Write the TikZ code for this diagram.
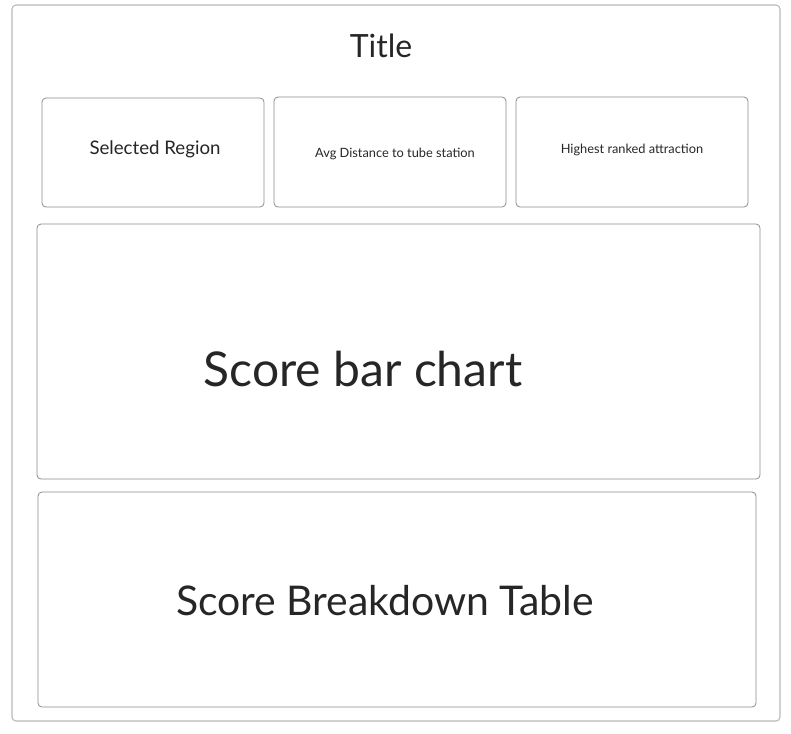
\documentclass[tikz,border=0pt]{standalone}
\usepackage{fontspec}
\setmainfont{Lato}
\usetikzlibrary{positioning}

\begin{document}
\begin{tikzpicture}[x=0.75pt,y=-0.75pt,
  panel/.style={draw=black!45,line width=0.6pt,rounded corners=3pt,inner sep=0pt},
  frame/.style={draw=black!28,line width=0.8pt,rounded corners=3pt,inner sep=0pt},
  lbl/.style={text=black!85,inner sep=0pt}]

\useasboundingbox (0,0) rectangle (791,733);

\node[frame,minimum width=576pt,minimum height=537pt] (page) at (396,363) {};
\node[lbl,font=\fontsize{24}{28}\selectfont] (title) at (381,46) {Title};

% top cards
\node[panel,minimum width=166.5pt,minimum height=81.75pt] (region) at (153,152.5) {};
\node[panel,minimum width=174pt,minimum height=82.5pt] (dist) at (390,152) {};
\node[panel,minimum width=174pt,minimum height=82.5pt] (attr) at (632,152) {};
\node[lbl,font=\fontsize{14}{17}\selectfont] (regiontxt) at (155,149) {Selected Region};
\node[lbl,font=\fontsize{9.6}{11}\selectfont] (disttxt) at (395,154) {Avg Distance to tube station};
\node[lbl,font=\fontsize{9.6}{11}\selectfont] (attrtxt) at (632,150) {Highest ranked attraction};

% chart and table
\node[panel,minimum width=542.25pt,minimum height=191.25pt] (chart) at (398.5,351.5) {};
\node[lbl,font=\fontsize{36}{42}\selectfont] (charttxt) at (363,369) {Score bar chart};
\node[panel,minimum width=538.5pt,minimum height=161.25pt] (table) at (397,599.5) {};
\node[lbl,font=\fontsize{30.7}{36}\selectfont] (tabletxt) at (385,601) {Score Breakdown Table};

\end{tikzpicture}
\end{document}
